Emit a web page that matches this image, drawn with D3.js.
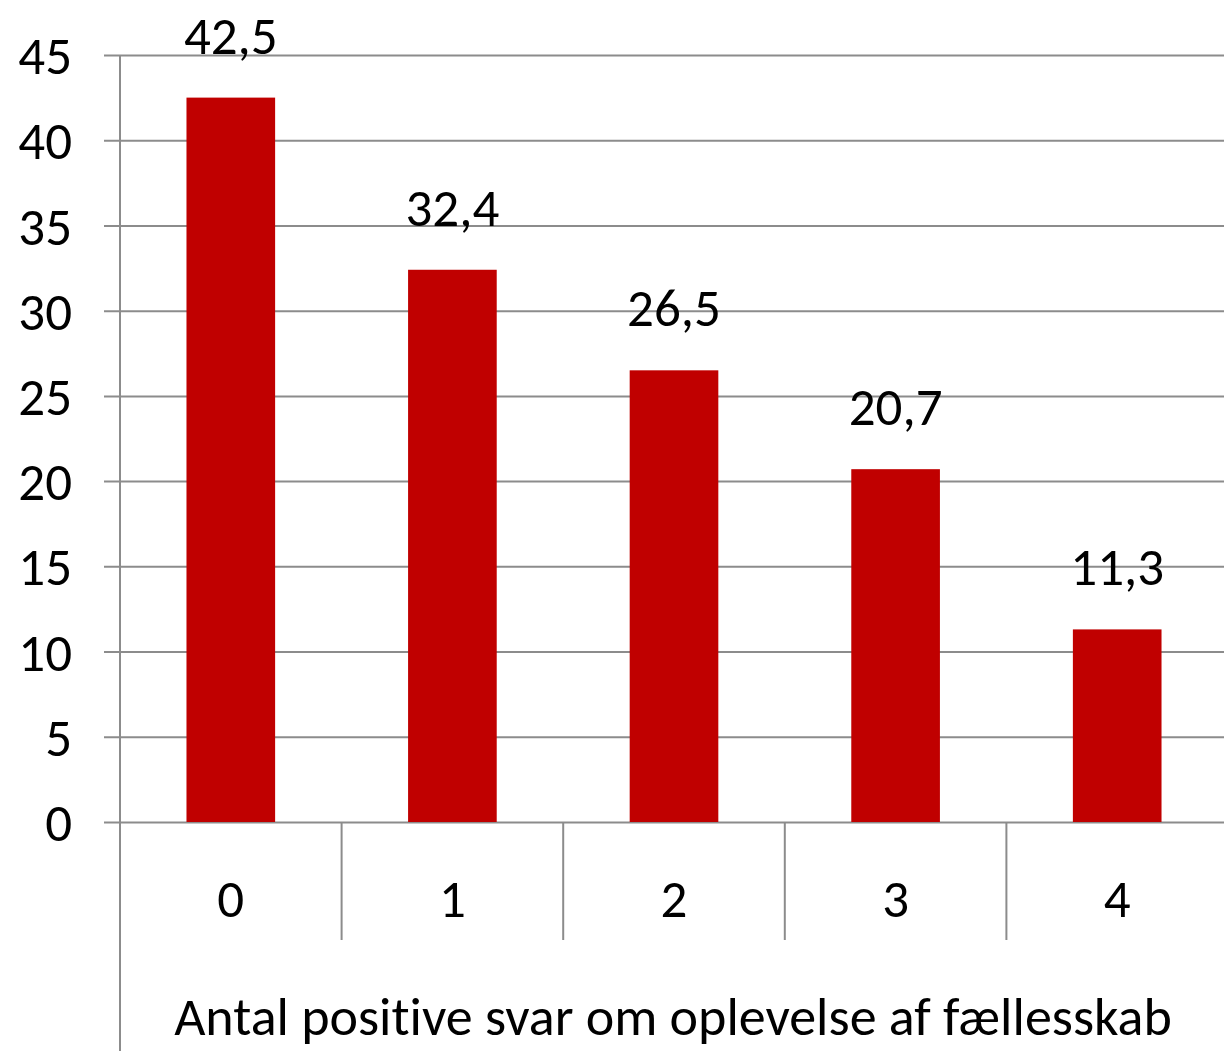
<!DOCTYPE html>
<html>
<head>
<meta charset="utf-8">
<script src="https://d3js.org/d3.v7.min.js"></script>
<style>
  body { margin: 0; background: #fff; }
  text { font-family: Carlito, "Liberation Sans Narrow", Lato, sans-serif; fill: #000; font-variant-ligatures: none; }
</style>
</head>
<body>
<div id="chart-area"></div>
<script>
// data
var categories = ["0", "1", "2", "3", "4"];
var values = [42.5, 32.4, 26.5, 20.7, 11.3];
var valueLabels = ["42,5", "32,4", "26,5", "20,7", "11,3"];
var yTicks = [0, 5, 10, 15, 20, 25, 30, 35, 40, 45];
var xTitle = "Antal positive svar om oplevelse af fællesskab";

var canvasWidth = 1224;
var canvasHeight = 1051;
var margin = { left: 120, right: 0, top: 55, bottom: 229 };
var width = 1108;
var height = canvasHeight - margin.top - margin.bottom;
var fontSize = 53;

var svg = d3.select("#chart-area")
    .append("svg")
        .attr("width", canvasWidth)
        .attr("height", canvasHeight);
var g = svg.append("g")
        .attr("transform", `translate(${margin.left},${margin.top})`);

var x = d3.scaleBand()
    .domain(categories)
    .range([0, width])
    .paddingInner(0.6)
    .paddingOuter(0.3);

var y = d3.scaleLinear()
    .domain([0, 45])
    .range([height, 0]);

// gridlines + y ticks
var yAxisCall = d3.axisLeft(y)
    .tickValues(yTicks)
    .tickSize(-(canvasWidth - margin.left))
    .tickPadding(48)
    .tickFormat(d => d);
var yAxis = g.append("g")
    .attr("class", "y axis")
    .call(yAxisCall);
yAxis.select(".domain").remove();
yAxis.selectAll(".tick line")
    .attr("x1", -16)
    .attr("stroke", "#8c8c8c")
    .attr("stroke-width", 2);
yAxis.selectAll(".tick text")
    .attr("font-size", fontSize)
    .attr("fill", "#000")
    .attr("dy", "0.35em");

// y axis line
g.append("line")
    .attr("x1", 0).attr("x2", 0)
    .attr("y1", 0).attr("y2", canvasHeight - margin.top)
    .attr("stroke", "#8c8c8c")
    .attr("stroke-width", 2);

// category separators
var step = x.step();
g.selectAll(".sep")
    .data(categories.slice(1))
    .enter()
    .append("line")
    .attr("class", "sep")
    .attr("x1", d => x(d) - x.paddingInner() * step / 2)
    .attr("x2", d => x(d) - x.paddingInner() * step / 2)
    .attr("y1", height)
    .attr("y2", height + 118)
    .attr("stroke", "#8c8c8c")
    .attr("stroke-width", 2);

// bars
g.selectAll("rect")
    .data(values)
    .enter()
    .append("rect")
    .attr("x", (d, i) => x(categories[i]))
    .attr("y", d => y(d))
    .attr("width", x.bandwidth())
    .attr("height", d => height - y(d))
    .attr("fill", "#c00000");

// value labels
g.selectAll(".value")
    .data(values)
    .enter()
    .append("text")
    .attr("class", "value")
    .attr("x", (d, i) => x(categories[i]) + x.bandwidth() / 2)
    .attr("y", d => y(d) - 44)
    .attr("text-anchor", "middle")
    .attr("font-size", fontSize)
    .text((d, i) => valueLabels[i]);

// category labels
g.selectAll(".cat")
    .data(categories)
    .enter()
    .append("text")
    .attr("class", "cat")
    .attr("x", d => x(d) + x.bandwidth() / 2)
    .attr("y", height + 95)
    .attr("text-anchor", "middle")
    .attr("font-size", fontSize)
    .text(d => d);

// x title
g.append("text")
    .attr("x", 673 - margin.left)
    .attr("y", 1035 - margin.top)
    .attr("text-anchor", "middle")
    .attr("font-size", 54)
    .text(xTitle);
</script>
</body>
</html>
